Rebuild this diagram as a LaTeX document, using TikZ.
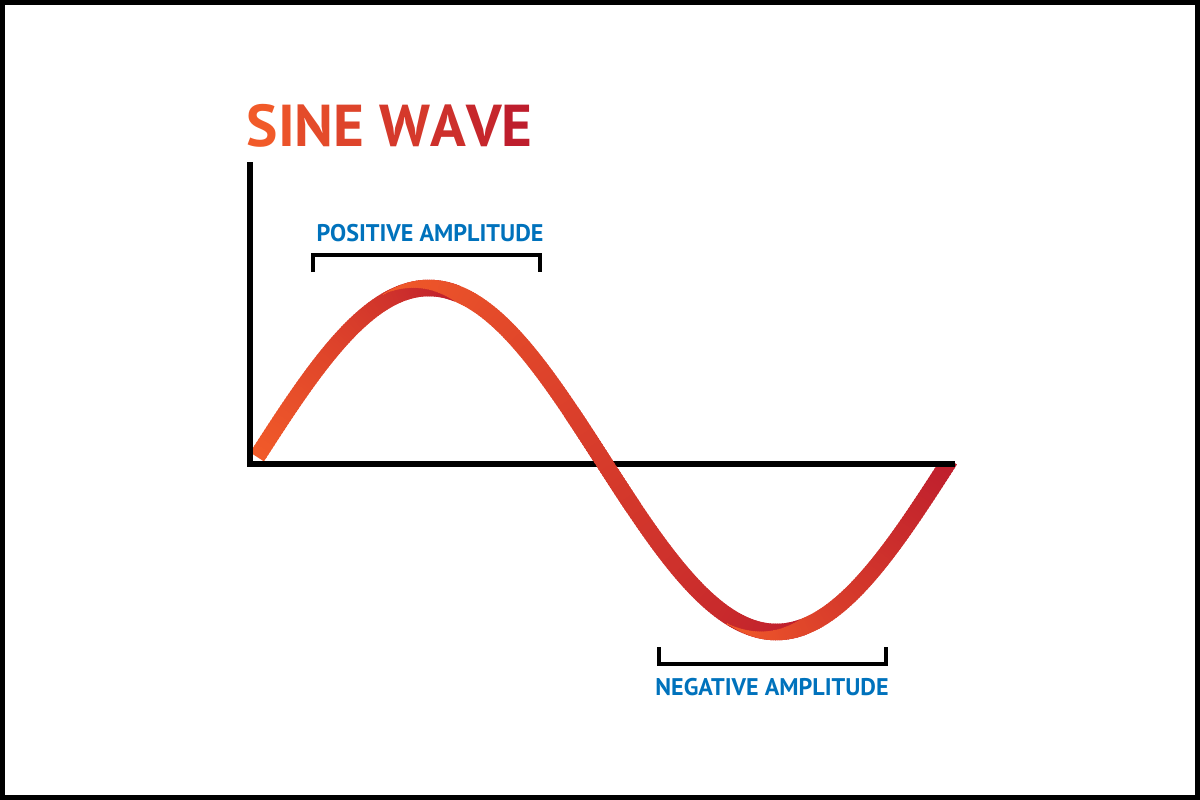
\documentclass[tikz,border=0pt]{standalone}
\usepackage{fontspec}
\setmainfont{PT Sans}
\usetikzlibrary{positioning}
\definecolor{waveorange}{RGB}{241,90,41}
\definecolor{wavered}{RGB}{190,30,45}
\definecolor{labelblue}{RGB}{0,114,188}
\pgfmathdeclarefunction{wavey}{1}{\pgfmathparse{460-172*sin((#1-255)/695*360)}}
% #1 start, #2 end, #3 taper, #4 outer side, #5..#6 range drawn
\newcommand{\ribbon}[6]{%
  \pgfmathtruncatemacro{\xsec}{#5+2}%
  \foreach \xa in {#5,\xsec,...,#6} {%
    \pgfmathsetmacro{\xb}{\xa+3}%
    \pgfmathsetmacro{\w}{16.5*min(1,(\xa-#1)/#3)}%
    \pgfmathsetmacro{\off}{#4*(16.5-\w)/2}%
    \pgfmathsetmacro{\lw}{\w*0.2845}%
    \pgfmathtruncatemacro{\p}{(\xa-#1)/(#2-#1)*100}%
    \draw[line width=\lw pt, wavered!\p!waveorange] (\xa,{wavey(\xa)+\off}) -- (\xb,{wavey(\xb)+\off});
  }}
\newcommand{\titleletter}[2]{\textcolor{wavered!#1!waveorange}{#2}}

\begin{document}
\begin{tikzpicture}[x=0.01cm, y=-0.01cm,
  axis/.style={line width=1.7pt, line join=miter},
  bracket/.style={line width=1.3pt, line join=miter},
  label/.style={font=\bfseries\fontsize{6.85}{7}\selectfont, text=labelblue, anchor=base, inner sep=0pt},
  title/.style={font=\bfseries\fontsize{16.8}{18}\selectfont, anchor=base west, inner sep=0pt}]

\useasboundingbox (0,0) rectangle (1200,800);
\draw[line width=1.3pt] (2.3,2.3) rectangle (1197.7,797.7);

\node[title] (title) at (246,146) {\titleletter{0}{S}\titleletter{12}{I}\titleletter{25}{N}\titleletter{37}{E} \titleletter{55}{W}\titleletter{70}{A}\titleletter{85}{V}\titleletter{100}{E}};

\coordinate (ytop) at (250,162);
\coordinate (origin) at (250,464);
\coordinate (xend) at (955,464);

\begin{scope}
\clip (0,0) -- (925,0) -- (925,461.5) -- (1200,461.5) -- (1200,800) -- (0,800) -- cycle;
\ribbon{255}{457}{1}{-1}{255}{455}
\ribbon{383}{803}{75}{-1}{383}{801}
\ribbon{727}{950}{76}{1}{727}{947}
\end{scope}

\draw[axis] (ytop) -- (origin) -- (xend);
\ribbon{383}{803}{75}{-1}{571}{631}

\coordinate (posleft) at (313,272);
\coordinate (posright) at (540,272);
\coordinate (negleft) at (659,647);
\coordinate (negright) at (886,647);
\draw[bracket] (posleft) |- (540,255) -- (posright);
\draw[bracket] (negleft) |- (886,664) -- (negright);

\node[label] (poslabel) at (430,241) {POSITIVE AMPLITUDE};
\node[label] (neglabel) at (772,695) {NEGATIVE AMPLITUDE};

\end{tikzpicture}
\end{document}
